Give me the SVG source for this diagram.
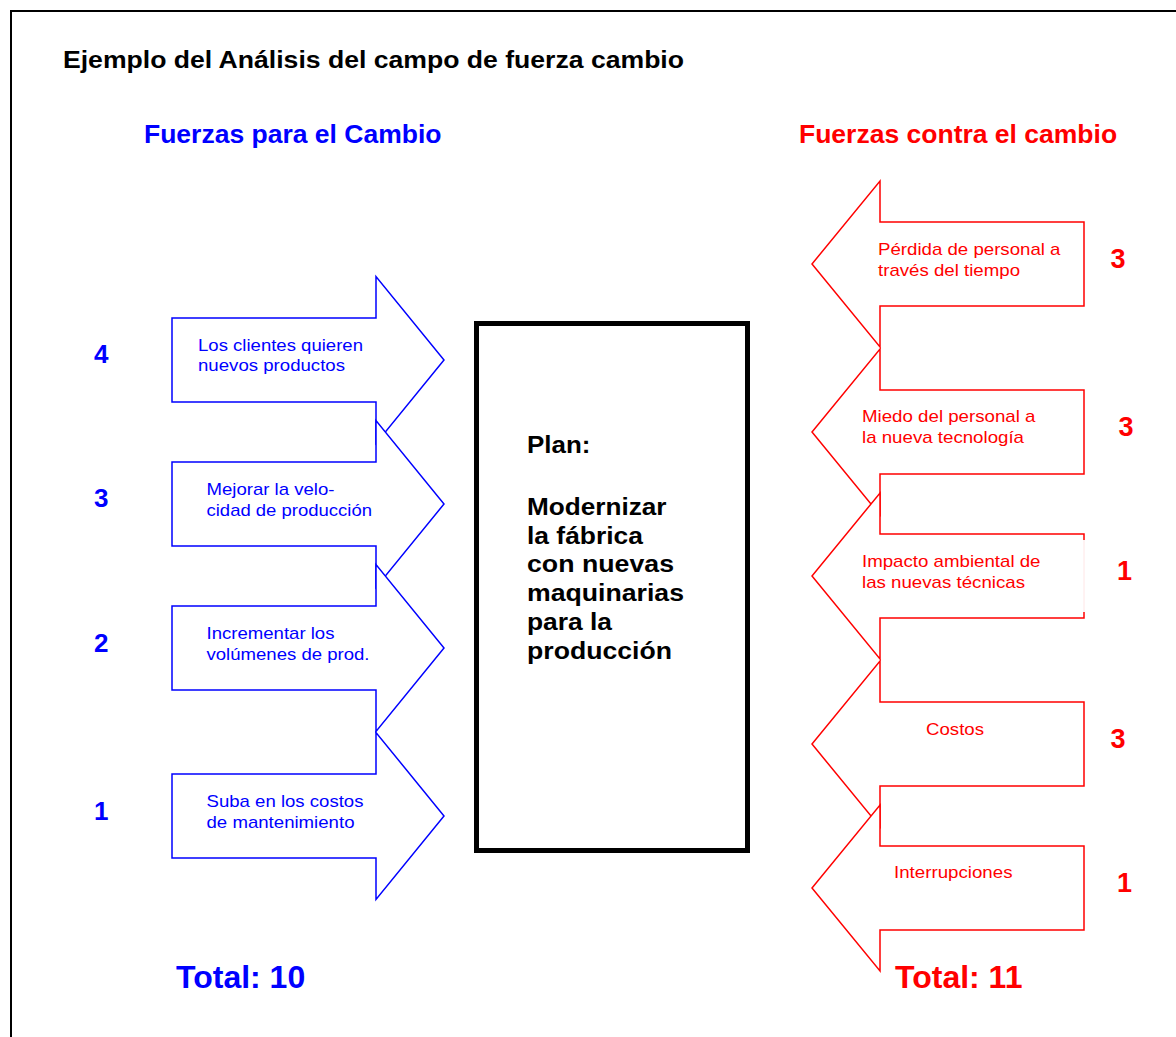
<svg xmlns="http://www.w3.org/2000/svg" width="1176" height="1037" viewBox="0 0 1176 1037">
<style>
text{font-family:"Liberation Sans",Arial,Helvetica,sans-serif}
.b{font-weight:bold}
.blue{fill:#0000ff}
.red{fill:#ff0000}
.sm{font-size:17px}
.ab{fill:#ffffff;stroke:#0000ff;stroke-width:1.5}
.ar{fill:#ffffff;stroke:#ff0000;stroke-width:1.5}
.num{font-size:26px;font-weight:bold}
.hd{font-size:26.5px;font-weight:bold}
.ctr{font-size:23.5px;font-weight:bold;fill:#000}
</style>
<rect x="0" y="0" width="1176" height="1037" fill="#ffffff"/>
<rect x="11" y="11" width="1200" height="1100" fill="none" stroke="#000" stroke-width="2"/>
<text id="title" class="b" x="63" y="68" font-size="23" textLength="621" lengthAdjust="spacingAndGlyphs">Ejemplo del Análisis del campo de fuerza cambio</text>
<text id="head-for" class="hd blue" x="144" y="143">Fuerzas para el Cambio</text>
<text id="head-against" class="hd red" x="799" y="143">Fuerzas contra el cambio</text>

<g id="for-1">
<path class="ab" d="M172,318 H376 V276.5 L444,360 L376,443.5 V402 H172 Z"/>
<text class="sm blue" x="198" y="350.5" textLength="165" lengthAdjust="spacingAndGlyphs">Los clientes quieren</text>
<text class="sm blue" x="198" y="371" textLength="147" lengthAdjust="spacingAndGlyphs">nuevos productos</text>
<text class="num blue" x="94" y="363">4</text>
</g>
<g id="for-2">
<path class="ab" d="M172,462 H376 V420.5 L444,504 L376,587.5 V546 H172 Z"/>
<text class="sm blue" x="206.5" y="495" textLength="128" lengthAdjust="spacingAndGlyphs">Mejorar la velo-</text>
<text class="sm blue" x="206.5" y="515.5" textLength="165.5" lengthAdjust="spacingAndGlyphs">cidad de producción</text>
<text class="num blue" x="94" y="507">3</text>
</g>
<g id="for-3">
<path class="ab" d="M172,606 H376 V564.5 L444,648 L376,731.5 V690 H172 Z"/>
<text class="sm blue" x="206.5" y="638.5" textLength="128" lengthAdjust="spacingAndGlyphs">Incrementar los</text>
<text class="sm blue" x="206.5" y="659.5" textLength="163" lengthAdjust="spacingAndGlyphs">volúmenes de prod.</text>
<text class="num blue" x="94" y="652">2</text>
</g>
<g id="for-4">
<path class="ab" d="M172,774 H376 V732.5 L444,816 L376,899.5 V858 H172 Z"/>
<text class="sm blue" x="206.5" y="807" textLength="157" lengthAdjust="spacingAndGlyphs">Suba en los costos</text>
<text class="sm blue" x="206.5" y="828" textLength="148" lengthAdjust="spacingAndGlyphs">de mantenimiento</text>
<text class="num blue" x="94" y="819.5">1</text>
</g>

<g id="plan">
<rect x="476.5" y="323.5" width="271" height="527" fill="#ffffff" stroke="#000" stroke-width="5"/>
<text class="ctr" x="527" y="453" textLength="63.5" lengthAdjust="spacingAndGlyphs">Plan:</text>
<text class="ctr" x="527" y="515" textLength="139.5" lengthAdjust="spacingAndGlyphs">Modernizar</text>
<text class="ctr" x="527" y="543.7" textLength="116" lengthAdjust="spacingAndGlyphs">la fábrica</text>
<text class="ctr" x="527" y="572.4" textLength="147" lengthAdjust="spacingAndGlyphs">con nuevas</text>
<text class="ctr" x="527" y="601" textLength="157" lengthAdjust="spacingAndGlyphs">maquinarias</text>
<text class="ctr" x="527" y="629.8" textLength="85" lengthAdjust="spacingAndGlyphs">para la</text>
<text class="ctr" x="527" y="658.5" textLength="145" lengthAdjust="spacingAndGlyphs">producción</text>
</g>

<g id="against-1">
<path class="ar" d="M1084,222 H880 V181 L812,264 L880,347 V306 H1084 Z"/>
<text class="sm red" x="878" y="255" textLength="182.5" lengthAdjust="spacingAndGlyphs">Pérdida de personal a</text>
<text class="sm red" x="878" y="275.7" textLength="142" lengthAdjust="spacingAndGlyphs">través del tiempo</text>
<text class="red" x="1110.5" y="267.5" font-size="27" font-weight="bold">3</text>
</g>
<g id="against-2">
<path class="ar" d="M1084,390 H880 V349 L812,432 L880,515 V474 H1084 Z"/>
<text class="sm red" x="862" y="422.3" textLength="173.5" lengthAdjust="spacingAndGlyphs">Miedo del personal a</text>
<text class="sm red" x="862" y="443.3" textLength="162" lengthAdjust="spacingAndGlyphs">la nueva tecnología</text>
<text class="red" x="1118.5" y="436" font-size="27" font-weight="bold">3</text>
</g>
<g id="against-3">
<path d="M1084,534 H880 V493 L812,576 L880,659 V618 H1084 Z" fill="#ffffff" stroke="none"/>
<path d="M1084,540 V534 H880 V493 L812,576 L880,659 V618 H1084 V612" fill="none" stroke="#ff0000" stroke-width="1.5"/>
<path d="M1084,540 V612" fill="none" stroke="#ffe6e6" stroke-width="1"/>
<text class="sm red" x="862" y="567.3" textLength="178.5" lengthAdjust="spacingAndGlyphs">Impacto ambiental de</text>
<text class="sm red" x="862" y="588.3" textLength="163" lengthAdjust="spacingAndGlyphs">las nuevas técnicas</text>
<text class="red" x="1117" y="580" font-size="27" font-weight="bold">1</text>
</g>
<g id="against-4">
<path class="ar" d="M1084,702 H880 V661 L812,744 L880,827 V786 H1084 Z"/>
<text class="sm red" x="926" y="735" textLength="58" lengthAdjust="spacingAndGlyphs">Costos</text>
<text class="red" x="1110.5" y="747.5" font-size="27" font-weight="bold">3</text>
</g>
<g id="against-5">
<path class="ar" d="M1084,846 H880 V805 L812,888 L880,971 V930 H1084 Z"/>
<text class="sm red" x="894" y="878.3" textLength="118.5" lengthAdjust="spacingAndGlyphs">Interrupciones</text>
<text class="red" x="1117" y="892" font-size="27" font-weight="bold">1</text>
</g>

<g id="connectors"></g>

<text id="total-for" class="b blue" x="176" y="988" font-size="32">Total: 10</text>
<text id="total-against" class="b red" x="895" y="988" font-size="32">Total: 11</text>
</svg>
